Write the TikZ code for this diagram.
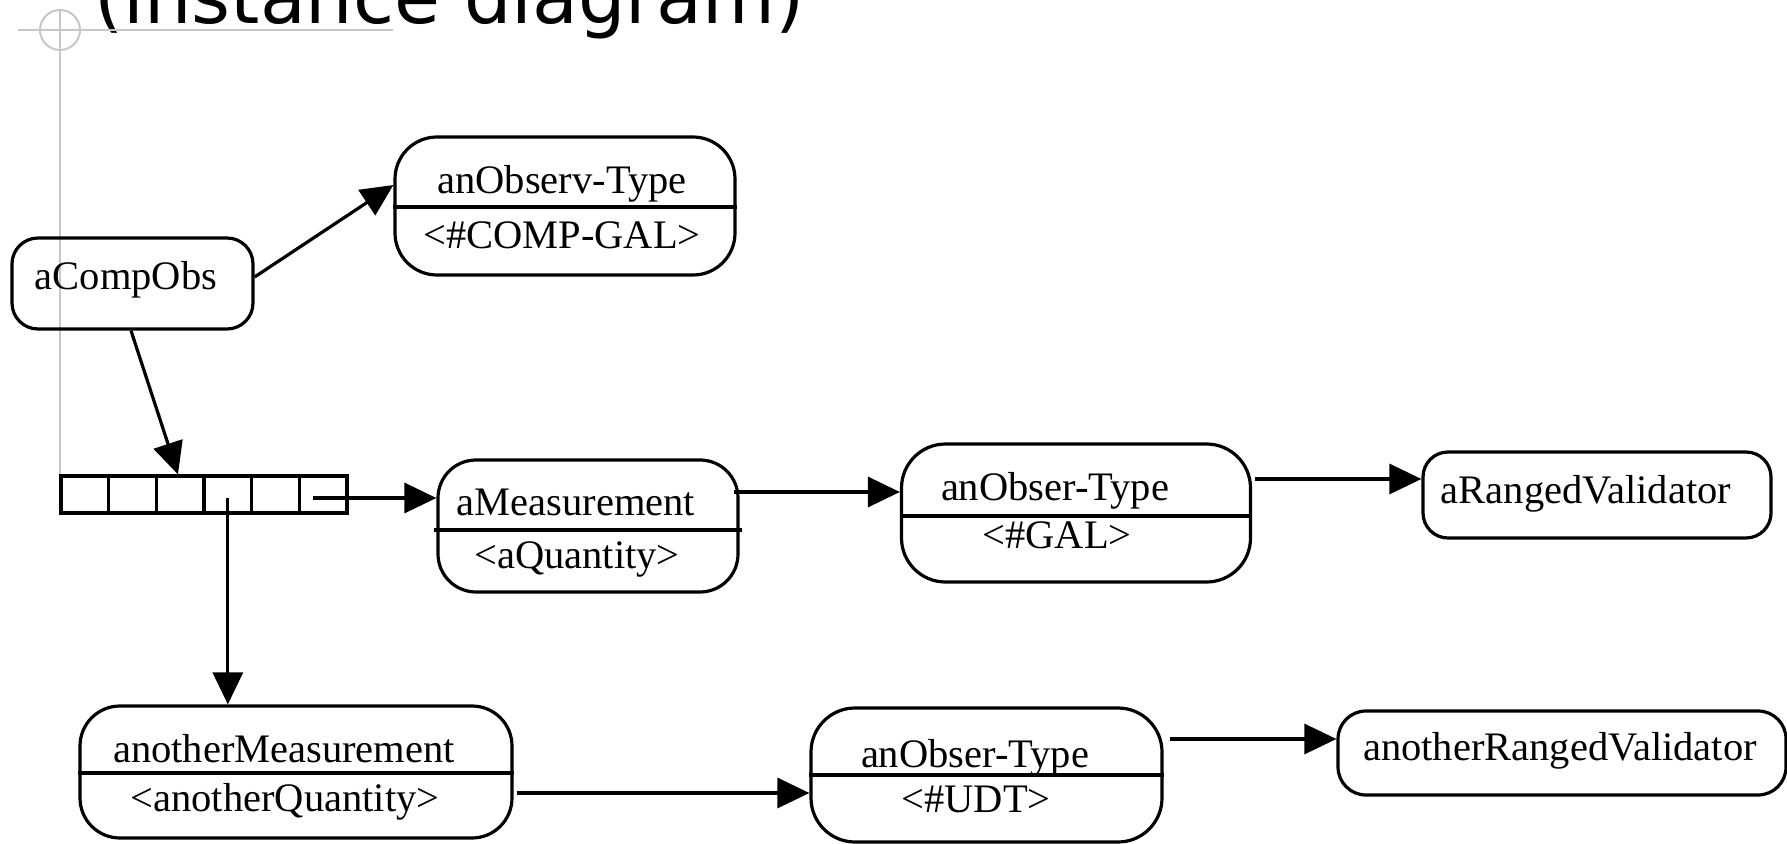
\documentclass[tikz,border=0pt]{standalone}
\usepackage{fontspec}
\setmainfont{Liberation Serif}
\newfontfamily\titlefont{DejaVu Sans}
\usetikzlibrary{arrows.meta,calc}
\begin{document}
\begin{tikzpicture}[x=0.5pt,y=-0.5pt,
  objbox/.style={draw, line width=1.6pt, inner sep=0pt},
  lbl/.style={anchor=base, inner sep=0pt, font=\fontsize{20.25}{24}\selectfont},
  arr/.style={line width=1.6pt, -{Triangle[length=16pt,width=15pt]}},
  divider/.style={line width=1.6pt},
  guide/.style={draw=black!22, line width=1pt},
  cell/.style={draw, line width=1.6pt, inner sep=0pt, minimum width=23.83pt, minimum height=18.5pt}]
\useasboundingbox (0,0) rectangle (1787,844);
\clip (0,0) rectangle (1787,844);

% slide title and layout guide
\node[anchor=base west, inner sep=0pt, font=\titlefont\fontsize{37.4}{40}\selectfont] (title) at (94,24) {(instance diagram)};
\draw[guide] (18,30) -- (393,30);
\draw[guide] (60,9) -- (60,477);
\draw[guide] (60,30) circle[radius=20];

% objects
\node[objbox, rounded corners=13pt, minimum width=120.5pt, minimum height=45.5pt] (acomp) at (132.5,283.5) {};
\node[lbl] (acompT) at (126,290) {aCompObs};

\node[objbox, rounded corners=21pt, minimum width=170pt, minimum height=69pt] (cgal) at (565,206) {};
\draw[divider] ([yshift=-0.5pt]cgal.west) -- ([yshift=-0.5pt]cgal.east);
\node[lbl] (cgalA) at (562,194) {anObserv-Type};
\node[lbl] (cgalB) at (562,249) {<\#COMP-GAL>};

\foreach \i in {1,...,6}
  \node[cell] (c\i) at ({61+47.67*(\i-0.5)},494.5) {};

\node[objbox, rounded corners=19pt, minimum width=150pt, minimum height=66pt] (ameas) at (588,526) {};
\draw[divider] ([xshift=-1pt,yshift=-2pt]ameas.west) -- ([xshift=1pt,yshift=-2pt]ameas.east);
\node[lbl] (ameasA) at (576,515) {aMeasurement};
\node[lbl] (ameasB) at (577,568) {<aQuantity>};

\node[objbox, rounded corners=22pt, minimum width=174.5pt, minimum height=69pt] (gal) at (1076,513) {};
\draw[divider] ([yshift=-1.5pt]gal.west) -- ([yshift=-1.5pt]gal.east);
\node[lbl] (galA) at (1055,500) {anObser-Type};
\node[lbl] (galB) at (1057,548) {<\#GAL>};

\node[objbox, rounded corners=12.5pt, minimum width=174pt, minimum height=43pt] (arv) at (1597,495) {};
\node[lbl] (arvT) at (1586,503) {aRangedValidator};

\node[objbox, rounded corners=20pt, minimum width=216pt, minimum height=66pt] (ameas2) at (296,772) {};
\draw[divider] ([yshift=-0.5pt]ameas2.west) -- ([yshift=-0.5pt]ameas2.east);
\node[lbl] (ameas2A) at (284,762) {anotherMeasurement};
\node[lbl] (ameas2B) at (285,811) {<anotherQuantity>};

\node[objbox, rounded corners=22pt, minimum width=175.5pt, minimum height=67pt] (udt) at (986.5,775) {};
\draw[divider] (udt.west) -- (udt.east);
\node[lbl] (udtA) at (975,767) {anObser-Type};
\node[lbl] (udtB) at (976,812) {<\#UDT>};

\node[objbox, rounded corners=14pt, minimum width=224pt, minimum height=42pt] (arv2) at (1562,753) {};
\node[lbl] (arv2T) at (1560,760) {anotherRangedValidator};

% links
\draw[arr] ([yshift=3.25pt]acomp.east) -- ([yshift=10.5pt]cgal.west);
\draw[arr] ([xshift=-0.75pt]acomp.south) -- ([xshift=-1.1pt]c3.north);

\coordinate (s6) at ([xshift=-5pt,yshift=-1.75pt]c6.center);
\draw[arr] (s6) -- (s6 -| ameas.west);

\coordinate (s4) at ([yshift=-1.5pt]c4.center);
\draw[arr] (s4) -- (s4 |- ameas2.north);

\coordinate (sm) at ([xshift=-3pt,yshift=17pt]ameas.east);
\draw[arr] (sm) -- (sm -| gal.west);

\coordinate (sg) at ([xshift=1.5pt,yshift=17pt]gal.east);
\draw[arr] (sg) -- (sg -| arv.west);

\coordinate (sm2) at ([xshift=1.5pt,yshift=-10.5pt]ameas2.east);
\draw[arr] (sm2) -- (sm2 -| udt.west);

\coordinate (su) at ([xshift=3pt,yshift=18pt]udt.east);
\draw[arr] (su) -- (su -| arv2.west);
\end{tikzpicture}
\end{document}
